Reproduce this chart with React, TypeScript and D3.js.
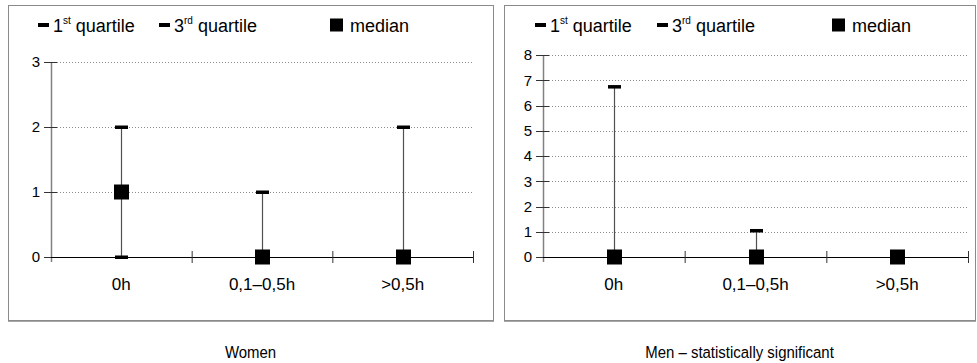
import React from "react";
import * as d3 from "d3";

// Activity duration groups on the x axis
const categories = ["0h", "0,1–0,5h", ">0,5h"];

// Women: quartiles and median
const womenQ1 = [0, 0, 0];
const womenQ3 = [2, 1, 2];
const womenMedian = [1, 0, 0];
const womenTicks = [0, 1, 2, 3];

// Men: quartiles and median
const menQ1 = [0, 0, 0];
const menQ3 = [6.75, 1.05, 0];
const menMedian = [0, 0, 0];
const menTicks = [0, 1, 2, 3, 4, 5, 6, 7, 8];

const FONT = "Liberation Sans, Arial, sans-serif";

type PanelProps = {
  frame: { x0: number; x1: number; y0: number; y1: number };
  plot: { x0: number; x1: number; yTop: number; yBottom: number };
  q1: number[];
  q3: number[];
  median: number[];
  ticks: number[];
  title: string;
  legendX: number[];
};

function Panel({ frame, plot, q1, q3, median, ticks, title, legendX }: PanelProps) {
  const yMax = ticks[ticks.length - 1];
  const x = d3.scaleBand<string>().domain(categories).range([plot.x0, plot.x1]);
  const y = d3.scaleLinear().domain([0, yMax]).range([plot.yBottom, plot.yTop]);
  const bw = x.bandwidth();
  const legendY = 25;
  const titleX = (frame.x0 + frame.x1) / 2;

  return (
    <g>
      {/* frame */}
      <rect
        x={frame.x0 + 0.5}
        y={frame.y0 + 0.5}
        width={frame.x1 - frame.x0}
        height={frame.y1 - frame.y0}
        fill="white"
        stroke="#8a8a8a"
        strokeWidth={1}
      />
      <line x1={frame.x0} x2={frame.x1 + 1} y1={frame.y1 + 1} y2={frame.y1 + 1} stroke="#8a8a8a" strokeWidth={1.5} />

      {/* legend */}
      <g fontFamily={FONT} fontSize={18} fill="#000">
        <rect x={legendX[0]} y={legendY - 2} width={11} height={4} fill="#000" />
        <text x={legendX[0] + 15} y={legendY + 6.5}>
          1<tspan fontSize={10} dy={-8}>st</tspan>
          <tspan dy={8}> quartile</tspan>
        </text>
        <rect x={legendX[1]} y={legendY - 2} width={11} height={4} fill="#000" />
        <text x={legendX[1] + 15} y={legendY + 6.5}>
          3<tspan fontSize={10} dy={-8}>rd</tspan>
          <tspan dy={8}> quartile</tspan>
        </text>
        <rect x={legendX[2]} y={legendY - 6.5} width={13} height={13} fill="#000" />
        <text x={legendX[2] + 20} y={legendY + 6.5}>median</text>
      </g>

      {/* grid */}
      {ticks
        .filter((t) => t > 0)
        .map((t) => (
          <line
            key={"g" + t}
            x1={plot.x0}
            x2={plot.x1}
            y1={Math.round(y(t)) + 0.5}
            y2={Math.round(y(t)) + 0.5}
            stroke="#8c8c8c"
            strokeWidth={1}
            strokeDasharray="1,2"
          />
        ))}

      {/* y axis */}
      <line x1={plot.x0 + 0.5} x2={plot.x0 + 0.5} y1={plot.yTop} y2={plot.yBottom + 5} stroke="#808080" strokeWidth={1.5} />
      {ticks.map((t) => (
        <g key={"t" + t}>
          <line
            x1={plot.x0 - 7}
            x2={plot.x0 + 6}
            y1={Math.round(y(t)) + 0.5}
            y2={Math.round(y(t)) + 0.5}
            stroke="#333"
            strokeWidth={1}
          />
          <text
            x={plot.x0 - 11}
            y={y(t)}
            dy="0.35em"
            textAnchor="end"
            fontFamily={FONT}
            fontSize={15}
            fill="#000"
          >
            {t}
          </text>
        </g>
      ))}

      {/* x axis */}
      <line x1={plot.x0} x2={plot.x1} y1={plot.yBottom + 0.5} y2={plot.yBottom + 0.5} stroke="#000" strokeWidth={1.2} />
      {categories.map((c) => (
        <line
          key={"xt" + c}
          x1={(x(c) as number) + bw + 0.5}
          x2={(x(c) as number) + bw + 0.5}
          y1={plot.yBottom - 6}
          y2={plot.yBottom + 6}
          stroke="#333"
          strokeWidth={1}
        />
      ))}
      {categories.map((c) => (
        <text
          key={"xl" + c}
          x={(x(c) as number) + bw / 2}
          y={plot.yBottom + 33}
          textAnchor="middle"
          fontFamily={FONT}
          fontSize={17}
          fill="#000"
        >
          {c}
        </text>
      ))}

      {/* whiskers, quartile marks and medians */}
      {categories.map((c, i) => {
        const cx = Math.round((x(c) as number) + bw / 2) + 0.5;
        return (
          <g key={"m" + c}>
            <line x1={cx} x2={cx} y1={y(q1[i])} y2={y(q3[i])} stroke="#505050" strokeWidth={1.2} />
            <rect x={cx - 6.5} y={y(q1[i]) - 1.5} width={13} height={3.5} fill="#000" />
            <rect x={cx - 6.5} y={y(q3[i]) - 1.5} width={13} height={3.5} fill="#000" />
            <rect x={cx - 7.5} y={y(median[i]) - 7.5} width={15} height={15} fill="#000" />
          </g>
        );
      })}

      {/* panel title, set slightly condensed */}
      <text
        transform={`translate(${titleX},358) scale(0.88,1)`}
        textAnchor="middle"
        fontFamily={FONT}
        fontSize={17}
        fill="#000"
      >
        {title}
      </text>
    </g>
  );
}

export default function App() {
  return (
    <svg
      width={977}
      height={363}
      style={{ position: "absolute", left: 0, top: 0, background: "white" }}
    >
      <Panel
        frame={{ x0: 8, x1: 493, y0: 5, y1: 320 }}
        plot={{ x0: 51, x1: 473, yTop: 62, yBottom: 257 }}
        q1={womenQ1}
        q3={womenQ3}
        median={womenMedian}
        ticks={womenTicks}
        title="Women"
        legendX={[38, 159, 330]}
      />
      <Panel
        frame={{ x0: 504, x1: 975, y0: 5, y1: 320 }}
        plot={{ x0: 543, x1: 968, yTop: 55, yBottom: 257 }}
        q1={menQ1}
        q3={menQ3}
        median={menMedian}
        ticks={menTicks}
        title="Men – statistically significant"
        legendX={[535, 657, 832]}
      />
    </svg>
  );
}
